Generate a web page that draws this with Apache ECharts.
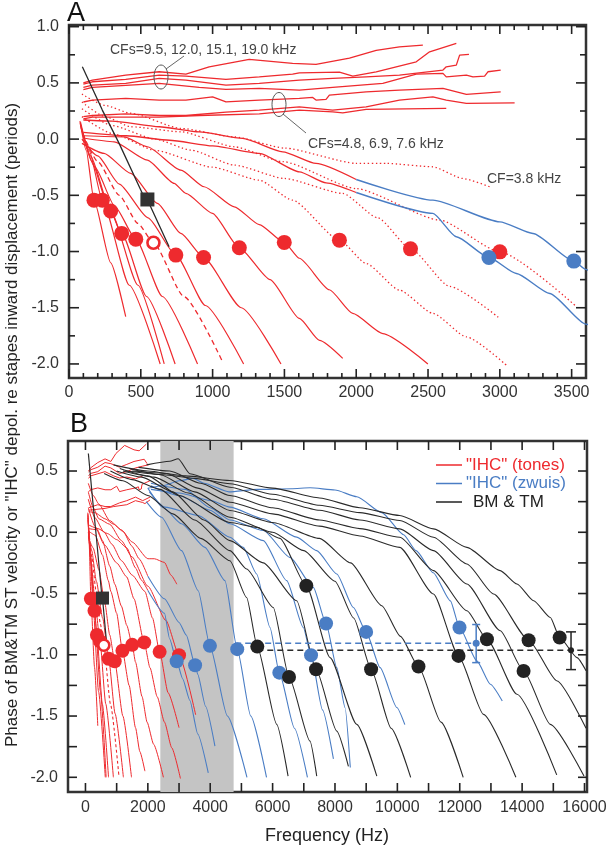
<!DOCTYPE html>
<html><head><meta charset="utf-8">
<script src="https://cdn.jsdelivr.net/npm/echarts@6/dist/echarts.min.js"></script>
<style>html,body{margin:0;padding:0;background:#fff}#c{width:610px;height:853px}</style>
</head><body><div id="c"></div>
<script>
// ===== DATA (frequency in Hz, phase in periods) =====
// "IHC" tone responses, high-CF group (CFs 9.5-19 kHz)
const toneHigh1 = [[100,0.50],[163,0.525],[395,0.569],[628,0.599],[814,0.578],[976,0.643],[1255,0.709],[1557,0.673],[1720,0.665],[1953,0.72],[2139,0.79],[2301,0.821],[2464,0.836]];
const toneHigh2 = [[100,0.49],[163,0.51],[395,0.531],[628,0.569],[814,0.56],[1093,0.531],[1325,0.554],[1557,0.578],[1604,0.59],[1883,0.596],[1976,0.56],[2139,0.599],[2418,0.688],[2511,0.777],[2697,0.851]];
const toneHigh3 = [[100,0.46],[163,0.48],[395,0.495],[628,0.54],[814,0.525],[1093,0.48],[1325,0.495],[1604,0.525],[1836,0.54],[2069,0.554],[2301,0.569],[2604,0.614],[2627,0.643],[2697,0.658],[2720,0.747],[2785,0.754]];
const toneHigh4 = [[100,0.44],[163,0.46],[628,0.495],[907,0.46],[1093,0.443],[1325,0.451],[1604,0.436],[1836,0.46],[2185,0.496],[2418,0.578],[2604,0.585],[2627,0.554],[2767,0.569],[2813,0.554],[2894,0.56],[2917,0.599],[3006,0.614]];
// mid-CF group (CFs 4.8, 6.9, 7.6 kHz)
const toneMid1 = [[100,0.33],[163,0.347],[395,0.362],[628,0.347],[814,0.347],[1000,0.376],[1093,0.332],[1325,0.347],[1604,0.362],[1697,0.371],[1720,0.347],[1790,0.353],[1813,0.391],[2069,0.421],[2301,0.436],[2604,0.451],[2767,0.398],[3006,0.421]];
const toneMid2 = [[100,0.20],[163,0.21],[395,0.225],[628,0.21],[814,0.21],[1093,0.24],[1325,0.258],[1604,0.287],[1836,0.258],[2069,0.287],[2301,0.347],[2534,0.376],[2627,0.347],[2767,0.318],[3103,0.323]];
const toneMid3 = [[100,0.18],[163,0.195],[628,0.195],[907,0.21],[1325,0.225],[1604,0.258],[1836,0.243],[1906,0.234],[2069,0.264],[2627,0.273]];
// dotted tone curves (CF = 3.8 kHz and others)
const toneCF38 = [[90,0.40],[250,0.30],[430,0.23],[779,0.095],[1151,0.02],[1500,-0.08],[2000,-0.216],[2209,-0.216],[2532,-0.246],[2742,-0.35],[2929,-0.424]];
const toneDotA = [[90,0.33],[250,0.20],[430,0.11],[779,0.065],[1151,-0.068],[1488,-0.2],[2000,-0.44],[2580,-0.72],[3000,-1.003],[3533,-1.49]];
const toneDotB = [[90,0.27],[300,0.12],[600,0.0],[849,-0.098],[1151,-0.231],[1500,-0.35],[1906,-0.483],[2150,-0.7],[2378,-0.976],[2650,-1.31],[3000,-1.595]];
const toneDotC = [[90,0.2],[300,0.05],[600,-0.1],[1000,-0.25],[1325,-0.365],[1556,-0.543],[1883,-0.899],[2069,-1.106],[2301,-1.343],[2534,-1.55],[2767,-1.759],[3045,-2.01]];
// solid tone curves (low CFs)
const toneLow1 = [[76,0.16],[120,-0.1],[174,-0.543],[290,-1.1],[395,-1.58]];
const toneLow2 = [[78,0.14],[140,-0.1],[232,-0.543],[420,-1.3],[635,-2.0]];
const toneLow3 = [[80,0.15],[150,-0.15],[290,-0.64],[480,-1.3],[663,-2.0]];
const toneLow4 = [[82,0.12],[160,-0.2],[260,-0.55],[367,-0.839],[540,-1.4],[739,-2.0]];
const toneLow5 = [[85,0.1],[180,-0.25],[320,-0.6],[465,-0.89],[650,-1.4],[895,-2.0]];
const toneLow6dash = [[95,0.05],[200,-0.2],[350,-0.5],[480,-0.75],[588,-0.922],[800,-1.4],[1069,-1.98]];
const toneLow7 = [[90,0.0],[200,-0.15],[350,-0.4],[550,-0.7],[744,-1.032],[950,-1.48],[1216,-2.0]];
const toneLow8 = [[90,-0.038],[244,-0.127],[430,-0.305],[616,-0.572],[779,-0.839],[937,-1.053],[1200,-1.5],[1476,-2.0]];
const toneLow9 = [[100,0.01],[314,-0.024],[546,-0.187],[732,-0.394],[814,-0.483],[999,-0.661],[1186,-0.967],[1400,-1.25],[1604,-1.595],[1744,-1.79],[1906,-1.95]];
const toneLow10 = [[100,0.03],[384,0.02],[546,-0.068],[779,-0.276],[941,-0.424],[1151,-0.602],[1325,-0.76],[1499,-0.919],[1604,-1.06],[1813,-1.34],[1976,-1.55],[2185,-1.73],[2499,-2.0]];
// tone curves continued by zwuis (blue) responses
const toneUpRed = [[100,0.17],[300,0.16],[628,0.11],[907,0.065],[1209,0.006],[1488,-0.113],[1720,-0.216],[2000,-0.359]];
const toneLowRed = [[100,0.06],[400,0.03],[700,-0.01],[1000,-0.06],[1325,-0.127],[1604,-0.291],[1790,-0.389],[2000,-0.475]];
const zwuisUp = [[2000,-0.359],[2534,-0.543],[3000,-0.736],[3231,-0.839],[3515,-1.085],[3599,-1.159],[3850,-1.42],[4151,-1.745]];
const zwuisLow = [[2000,-0.475],[2534,-0.661],[2697,-0.869],[2924,-1.053],[3115,-1.195],[3348,-1.373],[3599,-1.646],[3937,-1.964]];
// more zwuis curves (panel B)
const zwuis3 = [[1950,0.25],[2440,0.123],[3081,-0.15],[3615,-0.477],[3990,-0.927],[4550,-1.5],[5178,-2.0]];
const zwuis4 = [[2000,0.36],[2500,0.2],[3081,0.069],[3830,-0.123],[4472,-0.395],[4866,-0.954],[5300,-1.5],[5805,-2.0]];
const zwuis5 = [[2050,0.33],[2546,0.205],[3615,0.137],[4632,-0.041],[5060,-0.123],[5489,-0.34],[5916,-0.777],[6215,-1.146],[6700,-1.6],[7117,-2.0]];
const zwuis6 = [[2100,0.38],[3000,0.3],[4000,0.18],[4632,0.069],[5702,-0.068],[6452,-0.395],[6985,-0.777],[7232,-1.003],[7600,-1.45],[7950,-1.85]];
const zwuis7 = [[2100,0.4],[3200,0.35],[4000,0.2],[4632,0.1],[5702,0.014],[6558,-0.205],[7306,-0.45],[7714,-0.745],[8057,-1.105],[8324,-1.432],[8491,-1.92]];
const zwuis8 = [[2100,0.35],[3000,0.32],[4000,0.26],[4632,0.205],[5702,0.11],[6773,-0.04],[7415,-0.15],[8057,-0.34],[8592,-0.614],[8998,-0.813],[9447,-1.105],[9983,-1.43],[10240,-1.57]];
const zwuis9 = [[2000,0.36],[2500,0.38],[3000,0.42],[3450,0.44],[3800,0.40],[4600,0.33],[5500,0.35],[6600,0.355],[7200,0.363],[8000,0.345],[8700,0.29],[9500,0.16],[10200,-0.02],[10600,-0.15],[11150,-0.33],[11700,-0.56],[11992,-0.777],[12550,-1.05],[12980,-1.24],[13363,-1.377]];
// BM & TM curves (panel B)
const bmtm1 = [[600,0.48],[1200,0.42],[2000,0.3],[2800,0.15],[3700,-0.05],[4632,-0.232],[5168,-0.532],[5509,-0.933],[6131,-1.568],[6496,-1.99]];
const bmtm2 = [[800,0.5],[1500,0.43],[2400,0.35],[3500,0.1],[4632,-0.15],[5168,-0.3],[6022,-0.614],[6526,-1.181],[7200,-1.705],[7415,-1.99]];
const bmtm3 = [[1000,0.5],[1800,0.45],[2800,0.33],[3800,0.1],[4632,-0.068],[5702,-0.25],[6773,-0.559],[7393,-1.118],[8057,-1.623],[8431,-1.91]];
const bmtm4 = [[1100,0.52],[2000,0.46],[3000,0.3],[4632,0.08],[5500,0.04],[6237,-0.05],[7081,-0.437],[7842,-1.023],[8699,-1.568],[9341,-1.99]];
const bmtm5 = [[1200,0.5],[2200,0.45],[3300,0.32],[4632,0.123],[6000,0.0],[7000,-0.15],[8000,-0.4],[8600,-0.7],[9158,-1.118],[9800,-1.6],[10427,-2.0]];
const bmtm6 = [[1400,0.52],[2400,0.47],[3500,0.33],[4632,0.178],[6000,0.08],[7500,-0.05],[8500,-0.25],[9500,-0.6],[10100,-0.85],[10677,-1.096],[11400,-1.55],[12111,-2.0]];
const bmtm7 = [[1500,0.5],[2600,0.48],[3600,0.36],[4632,0.245],[6000,0.15],[7500,0.05],[8800,-0.03],[10077,-0.123],[11158,-0.504],[11961,-1.009],[12762,-1.486],[13800,-2.0]];
const bmtm8 = [[1700,0.53],[2700,0.5],[3700,0.4],[4632,0.30],[6000,0.2],[7500,0.1],[8800,0.03],[10077,-0.041],[11158,-0.313],[12230,-0.641],[12872,-0.873],[13835,-1.322],[15110,-1.98]];
const bmtm9 = [[1958,0.55],[2700,0.58],[2973,0.6],[3348,0.478],[4632,0.368],[6000,0.27],[7500,0.18],[8800,0.1],[10077,0.028],[11158,-0.15],[12230,-0.422],[13299,-0.804],[14047,-1.132],[14905,-1.568],[15983,-1.99]];
const bmtm10 = [[1300,0.5],[2500,0.47],[3500,0.44],[4632,0.396],[6000,0.31],[7500,0.22],[8800,0.16],[10077,0.096],[11158,-0.041],[12230,-0.259],[13086,-0.504],[14208,-0.881],[15120,-1.214],[16050,-1.6]];
const bmtm11 = [[900,0.55],[2000,0.5],[3200,0.46],[4632,0.423],[6000,0.36],[7500,0.28],[8800,0.2],[10077,0.137],[11158,0.028],[12230,-0.123],[13299,-0.313],[13835,-0.422],[14370,-0.559],[14905,-0.696],[15203,-0.859],[15761,-1.023],[16050,-1.13]];
// low-frequency BM curve with square marker
const bmLowCurve = [[93,0.643],[232,0.258],[349,-0.038],[511,-0.483],[546,-0.54],[697,-0.958]];
// markers
const toneDots = [[174,-0.543],[232,-0.543],[290,-0.64],[367,-0.839],[465,-0.89],[744,-1.032],[937,-1.053],[1186,-0.967],[1499,-0.919],[1883,-0.899],[2378,-0.976],[3000,-1.003]];
const toneOpenDot = [[588,-0.922]];
const bmSquare = [[546,-0.537]];
const zwuisDots = [[2924,-1.053],[3515,-1.085],[3990,-0.927],[4866,-0.954],[6215,-1.146],[7232,-1.003],[7714,-0.745],[8998,-0.813],[11992,-0.777]];
const bmtmDots = [[5509,-0.933],[6526,-1.181],[7081,-0.437],[7393,-1.118],[9158,-1.118],[10677,-1.096],[11961,-1.009],[12872,-0.873],[14047,-1.132],[14208,-0.881],[15203,-0.859]];
const zwuisMean = [[4800,-0.905],[12527,-0.905]];
const bmtmMean = [[5509,-0.962],[16080,-0.962]];
const zwuisErr = [[12527,-0.905,-1.064,-0.753]];
const bmtmErr = [[15568,-0.962,-1.121,-0.813]];
const grayBandHz = [2400, 4750];
const toneBHzLimit = 2100; // tone curves near 0.5 periods shown up to this frequency in panel B
// tick values
const ticksAxMajor = [0,500,1000,1500,2000,2500,3000,3500];
const ticksAxMinor = [100,200,300,400,600,700,800,900,1100,1200,1300,1400,1600,1700,1800,1900,2100,2200,2300,2400,2600,2700,2800,2900,3100,3200,3300,3400];
const ticksAyMajor = [-2,-1.5,-1,-0.5,0,0.5,1];
const ticksAyMinor = [-1.75,-1.25,-0.75,-0.25,0.25,0.75];
const ticksBxMajor = [0,2000,4000,6000,8000,10000,12000,14000,16000];
const ticksBxMinor = [1000,3000,5000,7000,9000,11000,13000,15000];
const ticksByMajor = [-2,-1.5,-1,-0.5,0,0.5];
const ticksByMinor = [-1.75,-1.25,-0.75,-0.25,0.25];

// ===== CHART =====
const RED = '#ee2a2e', BLUE = '#4a7dc4', BLK = '#2a2a2a';
const FONT = '"Liberation Sans", Arial, sans-serif';
const chart = echarts.init(document.getElementById('c'));

const rangeAx = [0, 3600], rangeAy = [-2.125, 1.015];
const rangeBx = [-560, 16080], rangeBy = [-2.12, 0.745];
const fmtX = v => String(v);
const fmtY = v => v.toFixed(1);

function labelAxis(grid, range, pos, ticks, fmt, margin) {
  return {
    type: 'value', gridIndex: grid, min: range[0], max: range[1], position: pos,
    axisLine: { show: false, onZero: false }, splitLine: { show: false }, minorTick: { show: false },
    axisTick: { show: false },
    axisLabel: { show: true, customValues: ticks, formatter: fmt, color: '#333', fontSize: 16, fontFamily: FONT, margin: margin }
  };
}
const xAxes = [labelAxis(0, rangeAx, 'bottom', ticksAxMajor, fmtX, 7), labelAxis(1, rangeBx, 'bottom', ticksBxMajor, fmtX, 8)];
const yAxes = [labelAxis(0, rangeAy, 'left', ticksAyMajor, fmtY, 10), labelAxis(1, rangeBy, 'left', ticksByMajor, fmtY, 10)];

const DOTTED = [1.4, 2.6], DASHED = [5, 3.5];
function line(data, p, color, width, type, smooth) {
  return { type: 'line', xAxisIndex: p, yAxisIndex: p, data: data, symbol: 'none', showSymbol: false,
    smooth: smooth ? 0.2 : false, smoothMonotone: 'x', silent: true, clip: true, z: 3,
    lineStyle: { color: color, width: width, type: type || 'solid' } };
}
function dots(data, p, size, color, symbol, z) {
  return { type: 'scatter', xAxisIndex: p, yAxisIndex: p, data: data, symbol: symbol || 'circle', symbolSize: size,
    itemStyle: { color: color, opacity: 1 }, silent: true, clip: true, z: z || 6 };
}
function openDots(data, p, size) {
  return { type: 'scatter', xAxisIndex: p, yAxisIndex: p, data: data, symbol: 'circle', symbolSize: size,
    itemStyle: { color: '#fff', borderColor: RED, borderWidth: 2.6, opacity: 1 }, silent: true, z: 6 };
}
function errBar(data, p, color, cap, r) {
  return { type: 'custom', xAxisIndex: p, yAxisIndex: p, data: data, silent: true, z: 7,
    renderItem: function (params, api) {
      const c = api.coord([api.value(0), api.value(1)]);
      const lo = api.coord([api.value(0), api.value(2)]);
      const hi = api.coord([api.value(0), api.value(3)]);
      const st = { stroke: color, lineWidth: 1.5 };
      return { type: 'group', children: [
        { type: 'line', shape: { x1: lo[0], y1: lo[1], x2: hi[0], y2: hi[1] }, style: st },
        { type: 'line', shape: { x1: lo[0] - cap, y1: lo[1], x2: lo[0] + cap, y2: lo[1] }, style: st },
        { type: 'line', shape: { x1: hi[0] - cap, y1: hi[1], x2: hi[0] + cap, y2: hi[1] }, style: st },
        { type: 'circle', shape: { cx: c[0], cy: c[1], r: r }, style: { fill: color } }
      ] };
    } };
}

const toneSolids = [toneLow1, toneLow2, toneLow3, toneLow4, toneLow5, toneLow7, toneLow8, toneLow9, toneLow10];
const toneFlat = [toneHigh1, toneHigh2, toneHigh3, toneHigh4, toneMid1, toneMid2, toneMid3];
const toneDotted = [toneCF38, toneDotA, toneDotB, toneDotC];
const zwuisMore = [zwuis3, zwuis4, zwuis5, zwuis6, zwuis7, zwuis8, zwuis9];
const bmtmAll = [bmtm1, bmtm2, bmtm3, bmtm4, bmtm5, bmtm6, bmtm7, bmtm8, bmtm9, bmtm10, bmtm11];

const series = [];
// ---- Panel A (axis index 0) ----
toneFlat.forEach(d => series.push(line(d, 0, RED, 1.3, 'solid', false)));
toneDotted.forEach(d => series.push(line(d, 0, RED, 1.3, DOTTED, true)));
toneSolids.forEach(d => series.push(line(d, 0, RED, 1.2, 'solid', true)));
series.push(line(toneLow6dash, 0, RED, 1.3, DASHED, true));
series.push(line(toneUpRed, 0, RED, 1.3, 'solid', true));
series.push(line(toneLowRed, 0, RED, 1.3, 'solid', true));
series.push(line(zwuisUp, 0, BLUE, 1.4, 'solid', true));
series.push(line(zwuisLow, 0, BLUE, 1.4, 'solid', true));
series.push(line(bmLowCurve, 0, BLK, 1.3, 'solid', false));
series.push(dots(toneDots, 0, 15, RED));
series.push(openDots(toneOpenDot, 0, 12));
series.push(dots(bmSquare, 0, 14, '#333', 'rect'));
series.push(dots(zwuisDots, 0, 15, BLUE));

// ---- Panel B (axis index 1) ----
series.push({ type: 'line', xAxisIndex: 1, yAxisIndex: 1, data: [], silent: true, z: 1,
  markArea: { silent: true, itemStyle: { color: '#c4c4c4' }, data: [[{ xAxis: grayBandHz[0] }, { xAxis: grayBandHz[1] }]] } });
toneFlat.forEach(d => series.push(line(d.filter(pt => pt[0] <= toneBHzLimit), 1, RED, 1.0, 'solid', false)));
toneDotted.forEach(d => series.push(line(d, 1, RED, 1.0, 'solid', true)));
toneSolids.forEach(d => series.push(line(d, 1, RED, 1.0, 'solid', true)));
series.push(line(toneLow6dash, 1, RED, 1.1, [3, 2.5], true));
series.push(line(toneUpRed, 1, RED, 1.0, 'solid', true));
series.push(line(toneLowRed, 1, RED, 1.0, 'solid', true));
series.push(line(zwuisUp, 1, BLUE, 1.1, 'solid', true));
series.push(line(zwuisLow, 1, BLUE, 1.1, 'solid', true));
zwuisMore.forEach(d => series.push(line(d, 1, BLUE, 1.1, 'solid', true)));
bmtmAll.forEach(d => series.push(line(d, 1, BLK, 1.1, 'solid', true)));
series.push(line(bmLowCurve, 1, BLK, 1.2, 'solid', false));
series.push(line(zwuisMean, 1, BLUE, 1.5, [6, 4], false));
series.push(line(bmtmMean, 1, BLK, 1.5, [6, 4], false));
series.push(dots(toneDots, 1, 14, RED));
series.push(openDots(toneOpenDot, 1, 11));
series.push(dots(bmSquare, 1, 13, '#333', 'rect'));
series.push(dots(zwuisDots, 1, 14, BLUE));
series.push(dots(bmtmDots, 1, 14, '#222'));
series.push(errBar(zwuisErr, 1, BLUE, 4, 3.5));
series.push(errBar(bmtmErr, 1, '#222', 5, 3));

const txt = (x, y, text, size, color, align, extra) => Object.assign({ type: 'text', x: x, y: y, z: 20,
  style: { text: text, font: size + 'px ' + FONT, fill: color, align: align || 'left', verticalAlign: 'middle' } }, extra || {});

const graphic = [
  txt(67, 14, 'A', 27, '#111'),
  txt(70, 425, 'B', 27, '#111'),
  txt(12, 425, 'Phase of BM&TM ST velocity or "IHC" depol. re stapes inward displacement (periods)', 17, '#222', 'center', { rotation: Math.PI / 2 }),
  txt(327, 836, 'Frequency (Hz)', 18, '#222', 'center'),
  // annotations panel A
  txt(110, 50, 'CFs=9.5, 12.0, 15.1, 19.0 kHz', 14, '#444'),
  txt(308, 144, 'CFs=4.8, 6.9, 7.6 kHz', 14, '#444'),
  txt(487, 179, 'CF=3.8 kHz', 14, '#444'),
  { type: 'ellipse', z: 20, shape: { cx: 161, cy: 77, rx: 7, ry: 12 }, style: { fill: 'none', stroke: '#555', lineWidth: 1 } },
  { type: 'line', z: 20, shape: { x1: 166, y1: 69, x2: 184, y2: 56 }, style: { stroke: '#555', lineWidth: 0.9 } },
  { type: 'ellipse', z: 20, shape: { cx: 279, cy: 104.5, rx: 7, ry: 12 }, style: { fill: 'none', stroke: '#555', lineWidth: 1 } },
  { type: 'line', z: 20, shape: { x1: 283, y1: 114, x2: 306, y2: 133 }, style: { stroke: '#555', lineWidth: 0.9 } },
  // legend panel B
  { type: 'line', z: 20, shape: { x1: 436, y1: 465, x2: 462, y2: 465 }, style: { stroke: RED, lineWidth: 1.5 } },
  { type: 'line', z: 20, shape: { x1: 436, y1: 483.5, x2: 462, y2: 483.5 }, style: { stroke: BLUE, lineWidth: 1.5 } },
  { type: 'line', z: 20, shape: { x1: 436, y1: 502, x2: 462, y2: 502 }, style: { stroke: '#222', lineWidth: 1.5 } },
  txt(466, 465, '"IHC" (tones)', 17, RED),
  txt(466, 483.5, '"IHC" (zwuis)', 17, BLUE),
  txt(473, 502, 'BM & TM', 17, '#222')
];

chart.setOption({
  grid: [
    { left: 69, top: 25, width: 517, height: 353, show: true, borderColor: '#333', borderWidth: 2.5 },
    { left: 68, top: 441, width: 519, height: 351, show: true, borderColor: '#333', borderWidth: 2.5 }
  ],
  xAxis: xAxes,
  yAxis: yAxes,
  series: series
});

// inward tick marks on all four sides, positioned through the axes' own scales
function tickMarks(ai, rx, ry, xMaj, xMin, yMaj, yMin, lx, lxm, ly, lym) {
  const out = [];
  const P = (x, y) => chart.convertToPixel({ xAxisIndex: ai, yAxisIndex: ai }, [x, y]);
  const seg = (x1, y1, x2, y2) => out.push({ type: 'line', z: 30, shape: { x1: x1, y1: y1, x2: x2, y2: y2 }, style: { stroke: '#222', lineWidth: 1.6 } });
  const tx = (v, len) => { const b = P(v, ry[0]), t = P(v, ry[1]); seg(b[0], b[1], b[0], b[1] - len); seg(t[0], t[1], t[0], t[1] + len); };
  const ty = (v, len) => { const l = P(rx[0], v), r = P(rx[1], v); seg(l[0], l[1], l[0] + len, l[1]); seg(r[0], r[1], r[0] - len, r[1]); };
  xMaj.forEach(v => tx(v, lx)); xMin.forEach(v => tx(v, lxm));
  yMaj.forEach(v => ty(v, ly)); yMin.forEach(v => ty(v, lym));
  return out;
}
const ticksGraphic = [].concat(
  tickMarks(0, rangeAx, rangeAy, ticksAxMajor, ticksAxMinor, ticksAyMajor, ticksAyMinor, 9, 5, 10, 6),
  tickMarks(1, rangeBx, rangeBy, ticksBxMajor, ticksBxMinor, ticksByMajor, ticksByMinor, 9, 9, 9, 9)
);
chart.setOption({ graphic: ticksGraphic.concat(graphic) });
</script></body></html>
